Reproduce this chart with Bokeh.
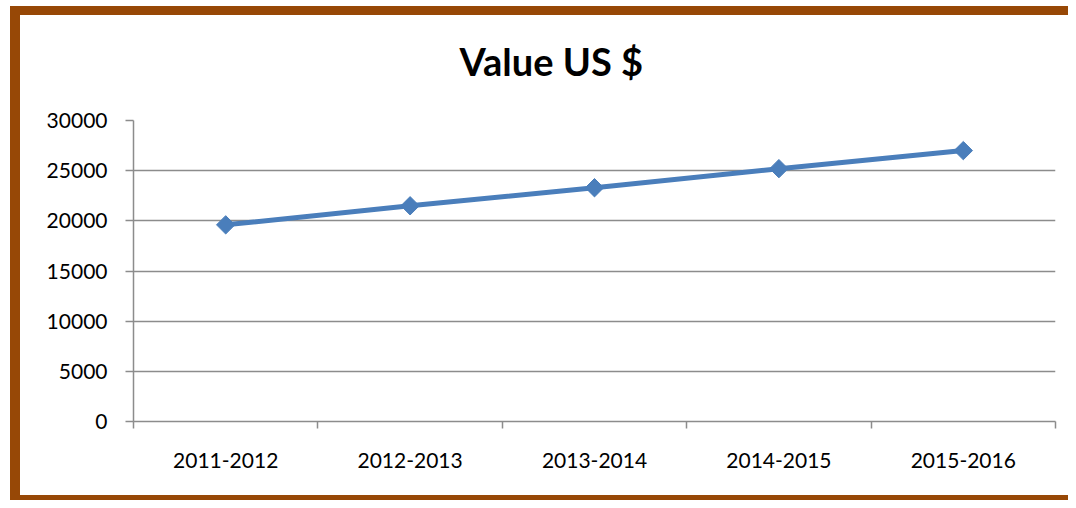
from math import pi
from bokeh.plotting import figure
from bokeh.models import FixedTicker, Range1d, Title
from bokeh.embed import file_html
from bokeh.resources import INLINE

categories = ["2011-2012", "2012-2013", "2013-2014", "2014-2015", "2015-2016"]
values = [19600, 21500, 23300, 25200, 27000]
y_ticks = [0, 5000, 10000, 15000, 20000, 25000, 30000]
title_text = "Value US $"

x = [i + 0.5 for i in range(len(categories))]
bounds = list(range(len(categories) + 1))

GRAY = "#8c8c8c"
BLUE = "#4a7ebb"
FONT = "Lato"

p = figure(frame_width=922, frame_height=301,
           min_border_left=113, min_border_top=105,
           min_border_right=13, min_border_bottom=74,
           x_range=Range1d(0, len(categories)), y_range=Range1d(0, 30000),
           output_backend="svg", toolbar_location=None,
           title=title_text)

p.styles = {
    "border-top": "9px solid #974806",
    "border-left": "10px solid #974806",
    "border-bottom": "5px solid #974806",
    "margin-top": "6px",
    "margin-left": "10px",
}

p.title.align = "left"
p.title.offset = 326
p.title.standoff = 40
p.title.text_font = FONT
p.title.text_font_size = "38px"
p.title.text_font_style = "bold"
p.title.text_color = "black"

# blank spacer between the title and the plotting area
spacer = Title(text=" ", text_font_size="1px", standoff=14)
p.add_layout(spacer, "above")

p.outline_line_color = None
p.background_fill_color = "white"
p.border_fill_color = "white"

p.xgrid.grid_line_color = None
p.ygrid.grid_line_color = GRAY
p.ygrid.grid_line_width = 1.5
p.yaxis.ticker = FixedTicker(ticks=y_ticks)

p.xaxis.ticker = FixedTicker(ticks=x, minor_ticks=bounds)
p.xaxis.major_label_overrides = {xi: c for xi, c in zip(x, categories)}
p.xaxis.major_tick_out = 0
p.xaxis.major_tick_in = 0
p.xaxis.minor_tick_out = 7
p.xaxis.minor_tick_in = 0
p.xaxis.minor_tick_line_color = GRAY
p.xaxis.minor_tick_line_width = 1.5
p.xaxis.major_label_standoff = 24

p.yaxis.major_tick_out = 8
p.yaxis.major_tick_in = 0
p.yaxis.minor_tick_line_color = None
p.yaxis.major_label_standoff = 18

for ax in (p.xaxis, p.yaxis):
    ax.axis_line_color = GRAY
    ax.axis_line_width = 1.5
    ax.major_tick_line_color = GRAY
    ax.major_tick_line_width = 1.5
    ax.major_label_text_font = FONT
    ax.major_label_text_font_size = "21px"
    ax.major_label_text_color = "black"

p.line(x, values, line_width=5, line_color=BLUE)
p.scatter(x, values, marker="square", angle=pi / 4, size=13,
          fill_color=BLUE, line_color=BLUE)

open("out.html", "w").write(file_html(p, INLINE))
